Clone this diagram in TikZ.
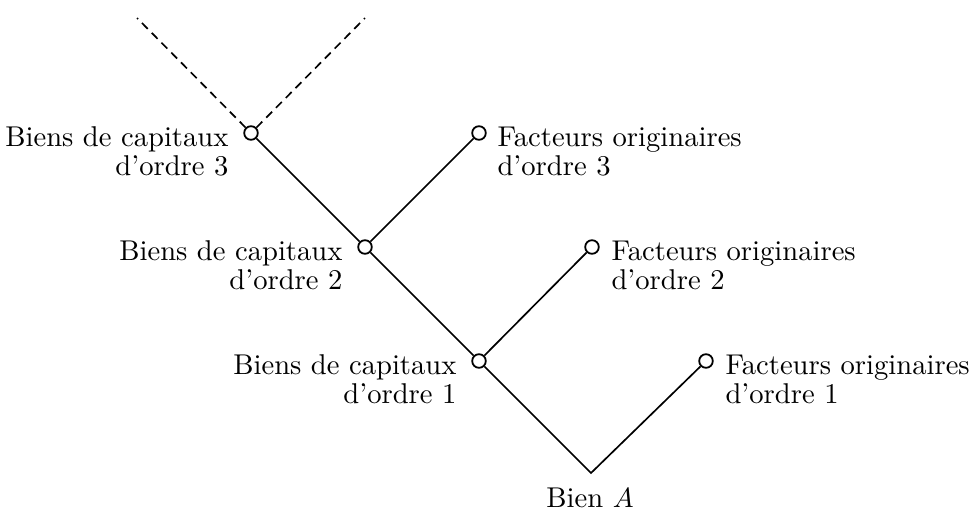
\documentclass[tikz,border=0pt]{standalone}
\begin{document}
\begin{tikzpicture}[x=0.36pt,y=-0.36pt,
  every node/.style={font=\fontsize{10.3}{10.6}\selectfont},
  dot/.style={circle,draw,line width=0.65pt,fill=white,minimum size=4.9pt,inner sep=0pt},
  branch/.style={line width=0.6pt},
  future/.style={line width=0.6pt,dash pattern=on 3pt off 2pt},
  lblL/.style={align=right,inner sep=0pt,anchor=north east},
  lblR/.style={align=left,inner sep=0pt,anchor=north west}]
\useasboundingbox (0,0) rectangle (974,509);

% capital goods of increasing order, and the final good
\coordinate (a) at (591,473);
\node[dot] (c1) at (479,361) {};
\node[dot] (c2) at (365,247) {};
\node[dot] (c3) at (251,133) {};
% original factors entering at each stage
\node[dot] (f1) at (706,361) {};
\node[dot] (f2) at (592,247) {};
\node[dot] (f3) at (479,133) {};
% further, earlier stages
\coordinate (u1) at (137,18);
\coordinate (u2) at (365,18);

\draw[branch] (c3) -- (c2) -- (c1) -- (a) -- (f1);
\draw[branch] (c2) -- (f3);
\draw[branch] (c1) -- (f2);
\draw[future] (c3) -- (u1);
\draw[future] (c3) -- (u2);

\node[lblL] (t3) at (229,126) {Biens de capitaux\\d'ordre 3};
\node[lblL] (t2) at (343,240) {Biens de capitaux\\d'ordre 2};
\node[lblL] (t1) at (457,354) {Biens de capitaux\\d'ordre 1};
\node[lblR] (g3) at (497,126) {Facteurs originaires\\d'ordre 3};
\node[lblR] (g2) at (611,240) {Facteurs originaires\\d'ordre 2};
\node[lblR] (g1) at (725,354) {Facteurs originaires\\d'ordre 1};
\node[inner sep=0pt,anchor=north] (ta) at (590,487) {Bien $A$};
\end{tikzpicture}
\end{document}
